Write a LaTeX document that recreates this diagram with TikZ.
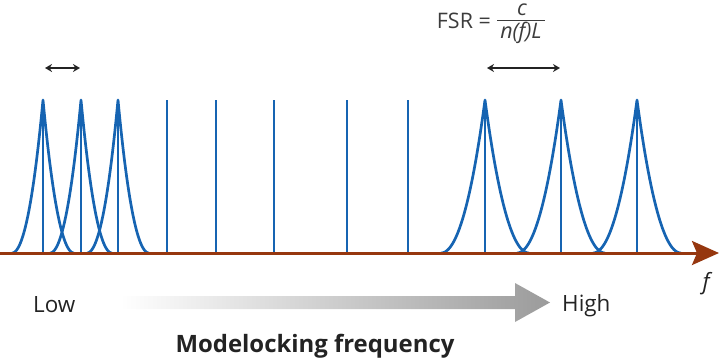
\documentclass[tikz,border=0pt]{standalone}
\usepackage{fontspec}
\setmainfont{Open Sans}
\usetikzlibrary{arrows.meta}
\definecolor{modeblue}{RGB}{22,100,178}
\definecolor{axisbrown}{RGB}{150,55,15}
\definecolor{txt}{RGB}{35,35,35}
\definecolor{fsrtxt}{RGB}{60,60,60}
\definecolor{arrowgray}{RGB}{155,155,155}
\begin{document}
\begin{tikzpicture}[x=1bp,y=-1bp,
  modeline/.style={draw=modeblue, line width=2.1bp},
  cusp/.style={draw=modeblue, line width=2.7bp, line join=round},
  dimarrow/.style={draw=txt, line width=1.4bp, {Stealth[length=7bp,width=8bp]}-{Stealth[length=7bp,width=8bp]}},
  axisline/.style={draw=axisbrown, line width=3bp, -{Stealth[length=27bp,width=24bp,inset=5bp]}},
  lbl/.style={text=txt, inner sep=0pt, font=\fontsize{22.5}{26}\selectfont},
  fsrlbl/.style={text=fsrtxt, inner sep=0pt, font=\fontsize{21.5}{25}\selectfont},
  boldlbl/.style={text=txt, inner sep=0pt, font=\fontsize{24}{28}\selectfont\bfseries}
]
\useasboundingbox (0,0) rectangle (720,360);

% cusp-shaped resonances
\foreach \xo/\w in {43/31, 81/31, 118/31, 485/44, 561/44, 637/44}{
  \draw[cusp] plot[domain=0:1, samples=60] ({\xo-\w*(1-\x)}, {253-153*\x*\x*(0.85+0.15*\x)})
    -- plot[domain=1:0, samples=60] ({\xo+\w*(1-\x)}, {253-153*\x*\x*(0.85+0.15*\x)});
}
% mode lines
\foreach \xo in {43, 81, 118, 167, 216, 274, 347, 408, 485, 561, 637}{
  \draw[modeline] (\xo,253) -- (\xo,100);
}

% frequency axis
\coordinate (ax0) at (0,253);
\coordinate (ax1) at (719,253);
\draw[axisline] (ax0) -- (ax1);
\node[lbl, font=\fontsize{22.5}{26}\selectfont\itshape] (flab) at (706,284) {f};

% spacing arrows
\coordinate (s1a) at (45,68);
\coordinate (s1b) at (80,68);
\draw[dimarrow] (s1a) -- (s1b);
\coordinate (s2a) at (487,68);
\coordinate (s2b) at (560,68);
\draw[dimarrow] (s2a) -- (s2b);

% FSR formula
\node[fsrlbl, anchor=base east] (fsr) at (491,28) {FSR =};
\coordinate (fb0) at (497,20.5);
\coordinate (fb1) at (545,20.5);
\draw[fsrtxt, line width=1.2bp] (fb0) -- (fb1);
\node[fsrlbl, anchor=base, font=\fontsize{21.5}{25}\selectfont\itshape] (num) at (522,15) {c};
\node[fsrlbl, anchor=base, font=\fontsize{21.5}{25}\selectfont\itshape] (den) at (521,38) {n(f)L};

% modelocking frequency arrow
\shade[left color=white, right color=arrowgray]
  (120,296) -- (515,296) -- (515,283) -- (550,302.5) -- (515,322) -- (515,309) -- (120,309) -- cycle;
\node[lbl, anchor=base west] (low) at (33,312) {Low};
\node[lbl, anchor=base west] (high) at (562,311) {High};
\node[boldlbl, anchor=base] (mlf) at (315,352) {Modelocking frequency};
\end{tikzpicture}
\end{document}
